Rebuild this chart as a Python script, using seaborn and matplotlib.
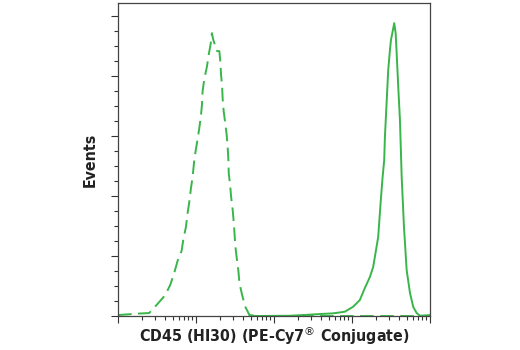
import numpy as np
import pandas as pd
import matplotlib
matplotlib.use("Agg")
import matplotlib.pyplot as plt
from matplotlib.ticker import LogLocator, MultipleLocator, NullFormatter
import seaborn as sns

# Isotype control (dashed)
control_x = [10, 18.6, 25.1, 32.0, 40.3, 46.6, 52.5, 57.9, 65.2, 69.2, 74.2, 77.9, 81.9,
             86.1, 90.3, 94.9, 97.8, 104.7, 110.1, 115.8, 119.3, 121.4, 127.6, 138.3,
             145.0, 153.9, 159.5, 166.8, 171.8, 180.6, 187.6, 199.1, 205.1, 209.4, 215.8,
             219.5, 226.0, 237.7, 247.2, 254.7, 260.0, 262.4, 273.5, 281.8, 295.3, 304.1,
             319.9, 332.6, 349.4, 359.9, 389.9, 429.5, 484.2, 651.6, 100000]
control_y = [1, 2.5, 3, 12, 21, 31, 43, 55, 65, 78, 89, 103, 114,
             128, 139, 156, 163, 177, 188, 201, 212, 225, 237, 250,
             261, 272, 283, 276, 273, 266, 265, 265, 254, 241, 230,
             217, 205, 192, 181, 168, 156, 143, 131, 119, 106, 94,
             69, 58, 45, 33, 21, 9, 1, 0, 0]

# CD45 (HI30) PE-Cy7 stained (solid)
stained_x = [484, 1583, 2346, 3845, 5703, 8065, 10310, 12580, 14590, 16920, 18660,
             21630, 23230, 24650, 25850, 26380, 27730, 29090, 30600, 31540, 34760,
             36240, 37330, 39130, 41130, 42380, 43250, 46330, 50150, 55330, 60980,
             67430, 74330, 100000]
stained_y = [0, 0.3, 1, 2, 2.7, 4.3, 9.3, 16, 28, 39, 49,
             79, 113, 139, 156, 179, 213, 246, 266, 276, 293,
             283, 263, 229, 196, 163, 140, 89, 46, 23, 9,
             3, 0.3, 1]

x_label = "CD45 (HI30) (PE-Cy7$^{\u00ae}$ Conjugate)"
y_label = "Events"

sns.set_style("ticks")
plt.rcParams['font.family'] = ['DejaVu Sans']

green = "#39b54a"
fig = plt.figure(figsize=(5.2, 3.5), dpi=100)
ax = fig.add_axes([0.227, 0.097, 0.600, 0.894])

ctrl = pd.DataFrame({"x": control_x, "y": control_y})
stn = pd.DataFrame({"x": stained_x, "y": stained_y})
sns.lineplot(data=ctrl, x="x", y="y", ax=ax, color=green, lw=1.4,
             linestyle=(0, (7, 3.3)), sort=False)
sns.lineplot(data=stn, x="x", y="y", ax=ax, color=green, lw=1.4, sort=False)

ax.set_xscale("log")
ax.set_xlim(10, 1e5)
ax.set_ylim(0, 313)
ax.xaxis.set_major_locator(LogLocator(base=10, numticks=10))
ax.xaxis.set_minor_locator(LogLocator(base=10, subs=np.arange(2, 10), numticks=20))
ax.xaxis.set_major_formatter(NullFormatter())
ax.xaxis.set_minor_formatter(NullFormatter())
ax.yaxis.set_major_locator(MultipleLocator(60))
ax.yaxis.set_minor_locator(MultipleLocator(15))
ax.yaxis.set_major_formatter(NullFormatter())

ax.tick_params(axis="both", which="major", length=5, width=0.8, color="#333333", direction="out")
ax.tick_params(axis="both", which="minor", length=2.8, width=0.8, color="#333333", direction="out")
for s in ax.spines.values():
    s.set_visible(True)
    s.set_color("#444444")
    s.set_linewidth(0.9)

ax.set_xlabel(x_label, fontsize=11.4, fontweight="bold", fontstretch="condensed",
              color="#222222", labelpad=-2.5)
ax.set_ylabel(y_label, fontsize=11.4, fontweight="bold", fontstretch="condensed",
              color="#222222", labelpad=6)

fig.savefig("out.png", dpi=100)
